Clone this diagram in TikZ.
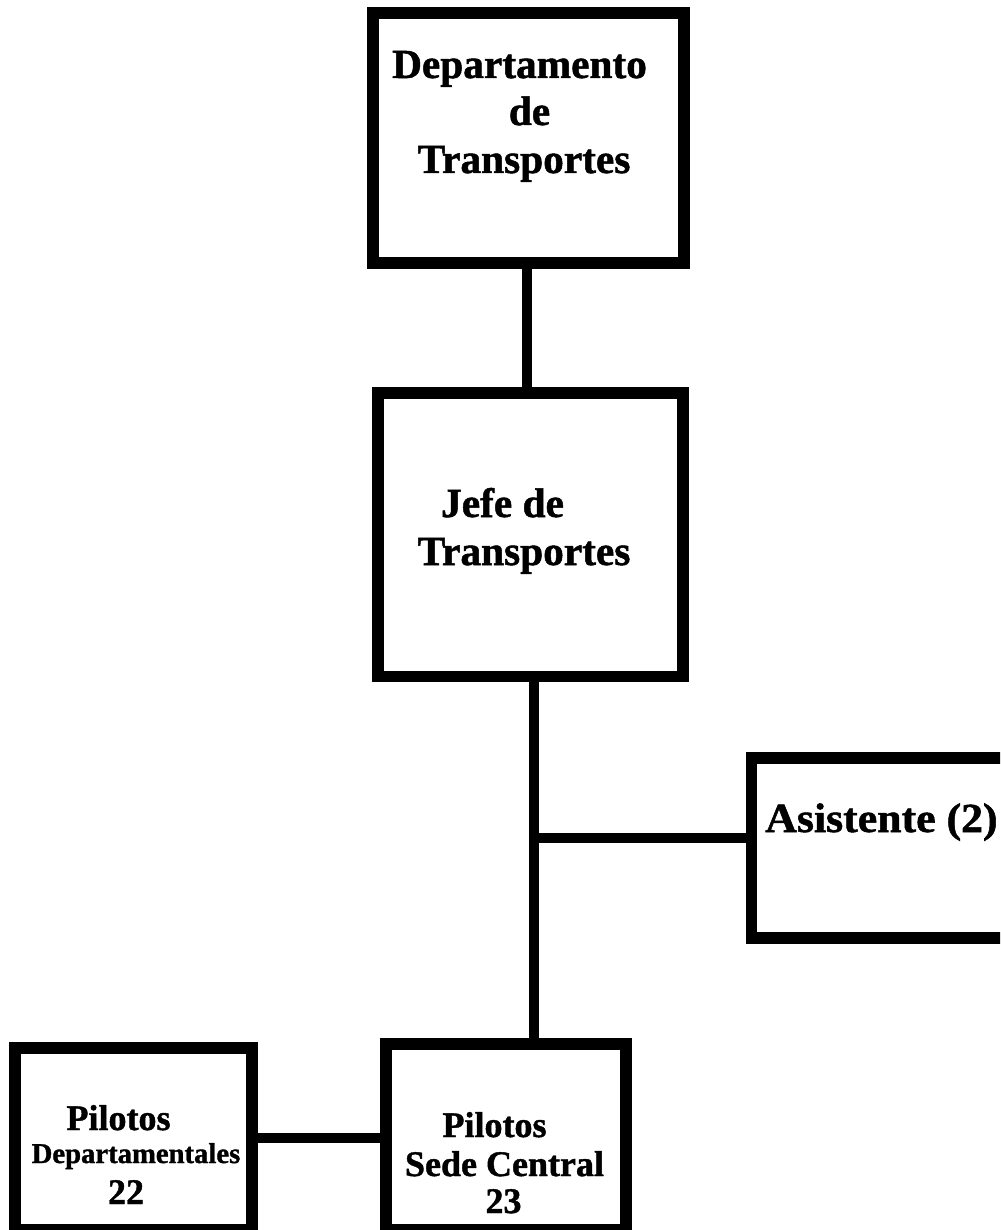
\documentclass[tikz,border=0pt]{standalone}
\usepackage{fontspec}
\setmainfont{Liberation Serif}[BoldFeatures={FakeBold=1.2}]
\begin{document}
\begin{tikzpicture}[x=0.75pt, y=-0.75pt,
  box/.style={draw=black, line width=8.6pt, fill=white, rectangle, inner sep=0pt, outer sep=0pt},
  link/.style={draw=black, line width=7.5pt},
  lbl/.style={anchor=base, inner sep=0pt, font=\bfseries\fontsize{31pt}{36pt}\selectfont},
  lblm/.style={anchor=base, inner sep=0pt, font=\bfseries\fontsize{27pt}{32pt}\selectfont},
  lbls/.style={anchor=base, inner sep=0pt, font=\bfseries\fontsize{21.5pt}{26pt}\selectfont}]
  \clip (0,0) rectangle (1000,1230);
  \fill[white] (0,0) rectangle (1000,1230);

  % organisation boxes (border centre lines)
  \node[box, minimum width=233.25pt, minimum height=187.5pt] (dep) at (528.5,138) {};
  \node[box, minimum width=228.75pt, minimum height=212.6pt] (jefe) at (530.5,534.75) {};
  \node[box, minimum width=197.6pt, minimum height=135pt] (asis) at (883.25,848) {};
  \node[box, minimum width=177.75pt, minimum height=136.5pt] (pdep) at (133.5,1139) {};
  \node[box, minimum width=180pt, minimum height=139.5pt] (sede) at (506,1137) {};

  % branch point on the trunk below the head of department
  \coordinate (trunk) at (534,837.5);
  \coordinate (side) at (0,1138);

  % connectors
  \draw[link] (dep.south -| 527,0) -- (jefe.north -| 527,0);
  \draw[link] (jefe.south -| trunk) -- (sede.north -| trunk);
  \draw[link] (trunk) -- (asis.west |- trunk);
  \draw[link] (pdep.east |- side) -- (sede.west |- side);

  % labels
  \node[lbl] (dep1) at (519.5,78) {Departamento};
  \node[lbl] (dep2) at (529.5,125) {de};
  \node[lbl] (dep3) at (524,173) {Transportes};

  \node[lbl] (jefe1) at (502.5,517) {Jefe de};
  \node[lbl] (jefe2) at (524,565) {Transportes};

  \node[lbl, anchor=base west] (asis1) at (765,832) {\scalebox{1.06}[1]{Asistente (2)}};

  \node[lblm] (pdep1) at (118.5,1130) {Pilotos};
  \node[lbls] (pdep2) at (136,1163) {Departamentales};
  \node[lblm] (pdep3) at (126,1204) {22};

  \node[lblm] (sede1) at (494.5,1137) {Pilotos};
  \node[lblm] (sede2) at (504.5,1176) {Sede Central};
  \node[lblm] (sede3) at (503.5,1213) {23};
\end{tikzpicture}
\end{document}
